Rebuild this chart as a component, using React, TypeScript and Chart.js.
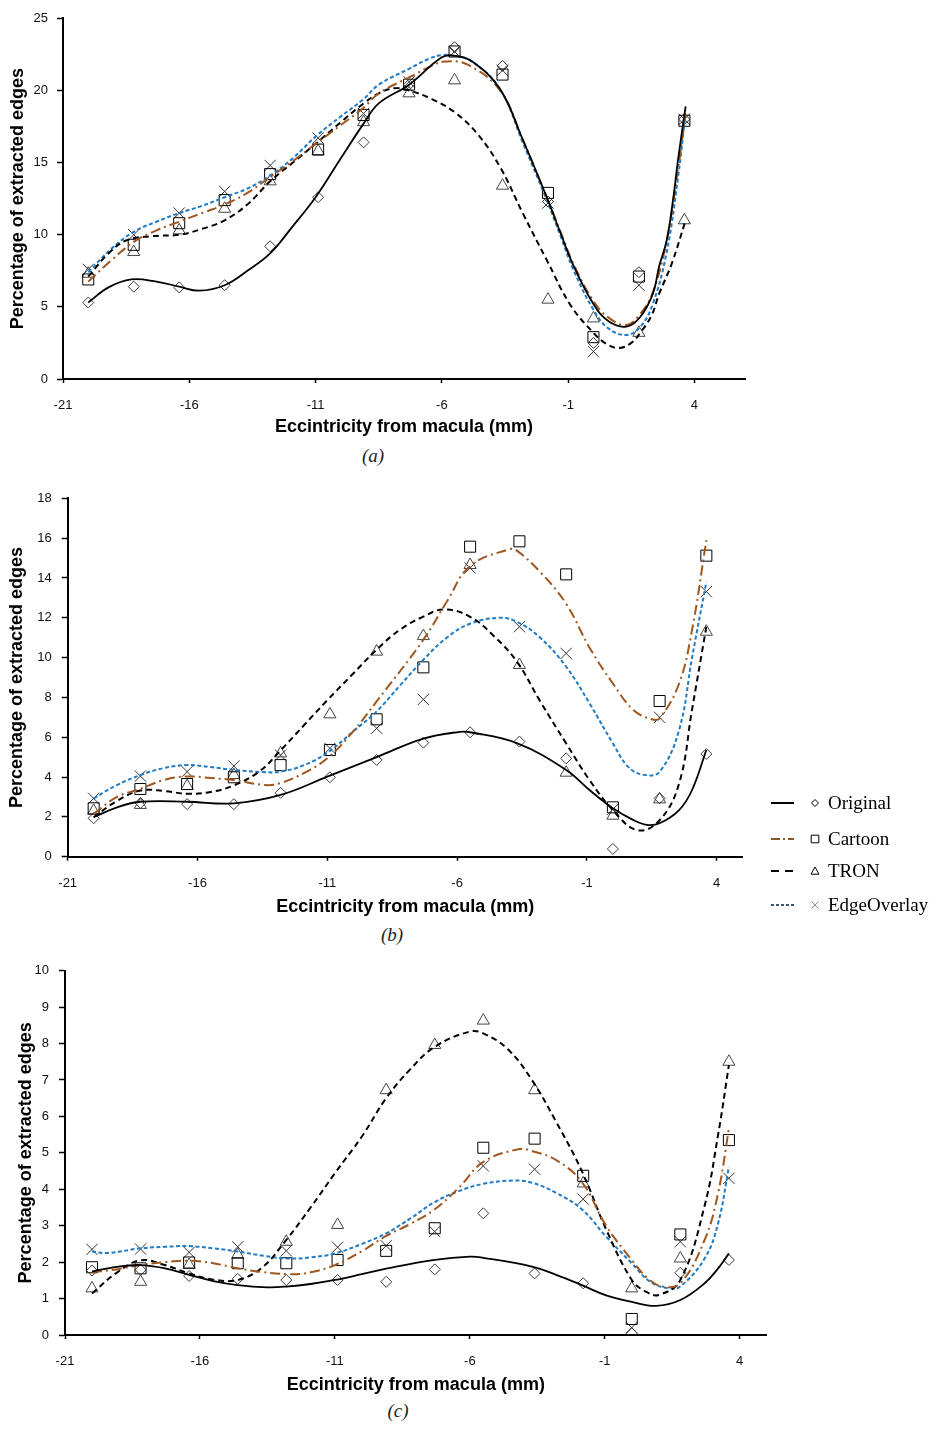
import React, { useEffect, useRef } from "react";
import { Chart, registerables } from "chart.js";

Chart.register(...registerables);
Chart.defaults.font.family = "'Liberation Sans', Arial, sans-serif";

// ---------- data ----------
const ECC = [-20, -18.2, -16.4, -14.6, -12.8, -10.9, -9.1, -7.3, -5.5, -3.6, -1.8, 0, 1.8, 3.6];
const X_TICKS = [-21, -16, -11, -6, -1, 4];
const SERIES = ["Original", "Cartoon", "TRON", "EdgeOverlay"];
const X_TITLE = "Eccintricity from macula (mm)";
const Y_TITLE = "Percentage of extracted edges";

// panel (a) measured points
const aOriginal = [5.3, 6.4, 6.35, 6.5, 9.2, 12.6, 16.4, 20.4, 23.0, 21.7, 12.3, 2.5, 7.4, 18.0];
const aCartoon = [6.9, 9.3, 10.8, 12.4, 14.2, 15.9, 18.3, 20.4, 22.7, 21.1, 12.9, 2.9, 7.1, 17.9];
const aTron = [7.3, 8.8, 10.3, 11.8, 13.7, 15.8, 17.8, 19.8, 20.7, 13.4, 5.5, 4.2, 3.2, 11.0];
const aEdge = [7.6, 10.0, 11.5, 13.0, 14.8, 16.7, 18.4, 20.6, 22.7, 21.4, 12.2, 1.9, 6.5, 18.0];
// panel (a) trend lines
const aOrigFitX = [-20.0, -19.2, -18.3, -17.3, -16.4, -15.6, -14.6, -13.7, -12.8, -11.9, -11.0, -10.0, -9.1, -8.5, -7.3, -6.0, -5.5, -4.8, -3.7, -2.8, -1.85, -1.3, -0.8, 0.0, 0.6, 1.3, 1.85, 2.35, 2.6, 2.9, 3.15, 3.35, 3.65];
const aOrigFitY = [5.3, 6.35, 6.9, 6.75, 6.4, 6.12, 6.5, 7.5, 8.7, 10.6, 12.6, 15.3, 17.7, 19.1, 20.4, 22.3, 22.4, 22.0, 20.1, 16.6, 12.6, 10.1, 7.9, 5.2, 4.0, 3.63, 4.3, 5.9, 7.8, 9.6, 12.4, 15.2, 18.9];
const aCartFitX = [-20.0, -19.1, -18.2, -17.3, -16.4, -15.5, -14.6, -13.7, -12.8, -11.9, -11.0, -10.0, -9.1, -8.5, -7.3, -6.4, -5.9, -5.0, -3.7, -2.8, -1.85, -1.3, -0.8, 0.0, 0.6, 1.3, 1.85, 2.35, 2.9, 3.35, 3.65];
const aCartFitY = [6.75, 8.2, 9.5, 10.3, 10.9, 11.5, 12.1, 12.9, 14.0, 15.1, 16.3, 17.6, 18.8, 19.8, 20.9, 21.7, 22.0, 21.8, 20.0, 16.6, 12.6, 10.2, 8.0, 5.4, 4.25, 3.74, 4.5, 6.0, 9.6, 14.6, 18.4];
const aTronFitX = [-20.0, -19.2, -18.5, -17.5, -16.4, -15.5, -14.6, -13.7, -12.8, -11.9, -11.0, -10.0, -9.1, -8.5, -7.9, -7.3, -6.4, -5.5, -4.6, -3.7, -2.8, -1.85, -0.9, 0.0, 0.5, 1.0, 1.5, 1.85, 2.3, 2.6, 3.1, 3.65];
const aTronFitY = [7.1, 8.7, 9.6, 9.9, 10.0, 10.4, 11.0, 12.1, 13.7, 15.0, 16.3, 17.8, 19.1, 19.8, 20.15, 20.0, 19.4, 18.5, 17.0, 14.7, 11.5, 8.25, 5.1, 3.2, 2.45, 2.15, 2.5, 3.2, 4.4, 5.9, 8.0, 11.0];
const aEdgeFitX = [-20.0, -19.1, -18.2, -17.3, -16.4, -15.5, -14.6, -13.7, -12.8, -11.9, -11.0, -10.0, -9.1, -8.5, -7.3, -6.5, -6.0, -5.5, -4.8, -3.7, -2.8, -1.85, -1.3, -0.8, 0.0, 0.6, 1.3, 1.85, 2.35, 2.9, 3.35, 3.65];
const aEdgeFitY = [7.4, 9.0, 10.2, 10.9, 11.5, 12.0, 12.6, 13.2, 14.1, 15.3, 16.8, 18.2, 19.4, 20.4, 21.5, 22.2, 22.45, 22.4, 22.0, 20.1, 16.4, 12.4, 9.9, 7.6, 4.8, 3.5, 3.05, 3.6, 5.2, 8.8, 14.0, 18.5];

// panel (b) measured points
const bOriginal = [1.93, 2.7, 2.64, 2.64, 3.21, 3.99, 4.86, 5.73, 6.25, 5.78, 4.94, 0.39, 2.93, 5.16];
const bCartoon = [2.43, 3.4, 3.65, 3.99, 4.6, 5.36, 6.9, 9.51, 15.57, 15.84, 14.18, 2.48, 7.82, 15.12];
const bTron = [2.3, 2.6, 3.55, 4.1, 5.19, 7.15, 10.3, 11.08, 14.65, 9.63, 4.22, 2.06, 2.88, 11.3];
const bEdge = [2.93, 4.05, 4.27, 4.55, 5.1, 5.44, 6.45, 7.9, 14.5, 11.55, 10.21, 2.38, 7.0, 13.31];
// panel (b) trend lines
const bOrigFitX = [-20.0, -19.1, -18.2, -16.4, -14.6, -12.8, -11.0, -9.1, -7.3, -5.9, -5.5, -3.7, -1.8, -0.9, 0.0, 0.7, 1.3, 1.8, 2.55, 3.05, 3.6];
const bOrigFitY = [1.98, 2.48, 2.76, 2.76, 2.68, 3.1, 4.02, 5.0, 5.93, 6.27, 6.25, 5.7, 4.36, 3.35, 2.43, 1.9, 1.6, 1.68, 2.34, 3.35, 5.36];
const bCartFitX = [-20.0, -19.1, -18.2, -17.3, -16.4, -15.5, -14.6, -13.4, -12.8, -11.9, -11.0, -10.0, -9.1, -7.3, -6.4, -5.5, -4.0, -3.7, -2.8, -1.8, -0.9, 0.0, 0.8, 1.5, 1.8, 2.55, 3.05, 3.6];
const bCartFitY = [2.15, 3.0, 3.41, 3.85, 4.03, 3.95, 3.85, 3.6, 3.7, 4.2, 4.94, 6.3, 7.8, 10.9, 12.8, 14.6, 15.44, 15.37, 14.3, 12.7, 10.5, 8.7, 7.35, 6.9, 6.95, 8.7, 11.4, 15.9];
const bTronFitX = [-20.0, -19.1, -18.2, -17.3, -16.4, -15.5, -14.6, -13.6, -12.8, -11.9, -11.0, -10.0, -9.1, -8.2, -7.3, -6.5, -5.5, -4.6, -3.7, -2.8, -1.8, -0.9, 0.0, 0.95, 1.8, 2.55, 3.05, 3.6];
const bTronFitY = [1.98, 2.8, 3.32, 3.3, 3.16, 3.25, 3.58, 4.3, 5.34, 6.6, 7.86, 9.2, 10.4, 11.4, 12.06, 12.42, 12.05, 11.1, 9.8, 7.8, 5.69, 3.85, 2.34, 1.33, 1.83, 3.68, 7.4, 11.55];
const bEdgeFitX = [-20.0, -19.1, -18.2, -17.3, -16.4, -15.5, -14.6, -13.5, -12.8, -11.9, -11.0, -10.0, -9.1, -8.2, -7.3, -6.4, -5.5, -4.4, -3.7, -2.8, -1.8, -0.9, 0.0, 0.6, 1.2, 1.8, 2.55, 3.05, 3.6];
const bEdgeFitY = [2.93, 3.6, 4.1, 4.45, 4.6, 4.5, 4.36, 4.25, 4.27, 4.6, 5.22, 6.3, 7.3, 8.6, 9.89, 11.0, 11.7, 12.0, 11.8, 11.0, 9.54, 7.7, 5.69, 4.5, 4.11, 4.27, 6.36, 10.0, 13.8];

// panel (c) measured points
const cOriginal = [1.77, 1.79, 1.62, 1.54, 1.51, 1.51, 1.46, 1.8, 3.34, 1.69, 1.42, 0.05, 1.71, 2.06];
const cCartoon = [1.86, 1.83, 1.99, 1.97, 1.97, 2.06, 2.31, 2.93, 5.14, 5.39, 4.37, 0.44, 2.76, 5.35];
const cTron = [1.28, 1.46, 1.92, 2.2, 2.56, 3.02, 6.72, 7.96, 8.63, 6.72, 4.16, 1.28, 2.1, 7.5];
const cEdge = [2.35, 2.36, 2.27, 2.42, 2.31, 2.41, 2.45, 2.84, 4.64, 4.55, 3.73, 0.2, 2.56, 4.3];
// panel (c) trend lines
const cOrigFitX = [-20.0, -19.1, -18.2, -17.3, -16.4, -15.5, -14.6, -13.5, -12.8, -11.9, -11.0, -10.0, -9.1, -7.3, -6.0, -5.5, -3.7, -2.8, -1.85, -0.95, 0.0, 0.9, 1.8, 2.7, 3.2, 3.6];
const cOrigFitY = [1.74, 1.87, 1.92, 1.83, 1.65, 1.48, 1.37, 1.31, 1.33, 1.4, 1.51, 1.67, 1.82, 2.06, 2.15, 2.12, 1.88, 1.65, 1.37, 1.09, 0.91, 0.8, 0.96, 1.42, 1.83, 2.24];
const cCartFitX = [-20.0, -19.1, -18.2, -17.3, -16.4, -15.5, -14.6, -13.7, -12.7, -11.9, -11.0, -10.0, -9.1, -8.2, -7.3, -6.4, -5.5, -4.2, -3.7, -2.8, -1.85, -0.95, 0.0, 0.6, 1.15, 1.8, 2.7, 3.2, 3.6];
const cCartFitY = [1.72, 1.8, 1.92, 2.0, 2.04, 1.97, 1.83, 1.73, 1.67, 1.72, 1.92, 2.3, 2.72, 3.05, 3.45, 4.05, 4.75, 5.1, 5.05, 4.8, 4.2, 3.0, 2.06, 1.55, 1.33, 1.42, 2.61, 3.9, 5.67];
const cTronFitX = [-20.0, -19.1, -18.2, -17.3, -16.4, -15.5, -14.6, -13.7, -12.8, -11.9, -11.0, -10.0, -9.1, -8.2, -7.3, -6.0, -5.5, -4.6, -3.7, -2.8, -1.85, -0.95, 0.0, 0.5, 1.0, 1.8, 2.7, 3.2, 3.6];
const cTronFitY = [1.14, 1.7, 2.05, 1.92, 1.69, 1.52, 1.51, 1.85, 2.61, 3.5, 4.44, 5.45, 6.5, 7.3, 7.91, 8.33, 8.28, 7.85, 7.0, 5.85, 4.5, 2.9, 1.51, 1.2, 1.1, 1.51, 3.55, 5.5, 7.41];
const cEdgeFitX = [-20.0, -19.4, -18.2, -17.3, -16.4, -15.5, -14.6, -13.6, -12.8, -11.9, -11.0, -10.0, -9.1, -8.2, -7.3, -6.4, -5.5, -4.4, -3.7, -2.8, -1.85, -0.95, 0.0, 0.7, 1.4, 1.8, 2.7, 3.2, 3.6];
const cEdgeFitY = [2.29, 2.25, 2.38, 2.42, 2.44, 2.38, 2.29, 2.17, 2.1, 2.13, 2.24, 2.5, 2.79, 3.2, 3.65, 3.95, 4.15, 4.24, 4.18, 3.9, 3.45, 2.7, 1.97, 1.45, 1.28, 1.33, 2.1, 3.07, 4.62];

// ---------- styles ----------
type SeriesStyle = { line: string; dash: number[]; width: number; point: string; r: number; pc: string };
const STYLES: SeriesStyle[] = [
  { line: "#000000", dash: [], width: 1.8, point: "rectRot", r: 5.5, pc: "#3a3a3a" },
  { line: "#a0561f", dash: [10, 4, 2, 4], width: 2, point: "rect", r: 7.8, pc: "#000000" },
  { line: "#000000", dash: [6, 4], width: 2, point: "triangle", r: 7, pc: "#454545" },
  { line: "#1f7bc4", dash: [4, 2.5], width: 2, point: "crossRot", r: 8, pc: "#333333" },
];

type PanelCfg = {
  top: number; W: number; H: number;
  area: { left: number; right: number; top: number; bottom: number };
  xMax: number; yMax: number; yStep: number;
  xTickPad: number; xTitlePadB: number; yTickPad: number; yTitlePadT: number;
  points: number[][]; fitX: number[][]; fitY: number[][];
  legend?: boolean;
  caption: string; capX: number; capY: number;
};

const PANELS: PanelCfg[] = [
  {
    top: 0, W: 760, H: 445, area: { left: 63, right: 745, top: 18.3, bottom: 379 },
    xMax: 6, yMax: 25, yStep: 5, xTickPad: 14.5, xTitlePadB: 7.2, yTickPad: 9, yTitlePadT: 7.2,
    points: [aOriginal, aCartoon, aTron, aEdge],
    fitX: [aOrigFitX, aCartFitX, aTronFitX, aEdgeFitX],
    fitY: [aOrigFitY, aCartFitY, aTronFitY, aEdgeFitY],
    caption: "(a)", capX: 373, capY: 456,
  },
  {
    top: 480, W: 951, H: 440, area: { left: 67.7, right: 742.7, top: 18.3, bottom: 376.7 },
    xMax: 5, yMax: 18, yStep: 2, xTickPad: 14.5, xTitlePadB: 2.5, yTickPad: 10, yTitlePadT: 6.2,
    points: [bOriginal, bCartoon, bTron, bEdge],
    fitX: [bOrigFitX, bCartFitX, bTronFitX, bEdgeFitX],
    fitY: [bOrigFitY, bCartFitY, bTronFitY, bEdgeFitY],
    legend: true,
    caption: "(b)", capX: 392, capY: 935,
  },
  {
    top: 950, W: 790, H: 450, area: { left: 65, right: 766.7, top: 20.7, bottom: 385 },
    xMax: 5, yMax: 10, yStep: 1, xTickPad: 14.2, xTitlePadB: 4.2, yTickPad: 10, yTitlePadT: 15.2,
    points: [cOriginal, cCartoon, cTron, cEdge],
    fitX: [cOrigFitX, cCartFitX, cTronFitX, cEdgeFitX],
    fitY: [cOrigFitY, cCartFitY, cTronFitY, cEdgeFitY],
    caption: "(c)", capX: 398, capY: 1411,
  },
];

// ---------- legend plugin (panel b) ----------
const LEGEND_ROWS = [323, 359, 391, 425];
const LEGEND_LINE_COLORS = ["#000000", "#8b5a2b", "#000000", "#3d5575"];
const LEGEND_DASH = [[], [9, 3, 2, 3], [8, 6], [3, 2]];
const LEGEND_MARK_COLORS = ["#000000", "#000000", "#000000", "#8a8aaa"];

function drawMark(ctx: CanvasRenderingContext2D, kind: string, x: number, y: number, s: number) {
  ctx.beginPath();
  if (kind === "rectRot") {
    ctx.moveTo(x, y - s); ctx.lineTo(x + s, y); ctx.lineTo(x, y + s); ctx.lineTo(x - s, y); ctx.closePath();
  } else if (kind === "rect") {
    ctx.rect(x - s, y - s, 2 * s, 2 * s);
  } else if (kind === "triangle") {
    ctx.moveTo(x, y - s); ctx.lineTo(x + s, y + s * 0.8); ctx.lineTo(x - s, y + s * 0.8); ctx.closePath();
  } else {
    ctx.moveTo(x - s, y - s); ctx.lineTo(x + s, y + s); ctx.moveTo(x + s, y - s); ctx.lineTo(x - s, y + s);
  }
  ctx.stroke();
}

const legendPlugin = {
  id: "sideLegend",
  afterDraw(chart: any) {
    const cfg = chart.options.plugins.sideLegend;
    if (!cfg || !cfg.show) return;
    const ctx: CanvasRenderingContext2D = chart.ctx;
    ctx.save();
    SERIES.forEach((name, i) => {
      const y = LEGEND_ROWS[i];
      ctx.strokeStyle = LEGEND_LINE_COLORS[i];
      ctx.lineWidth = 2;
      ctx.setLineDash(LEGEND_DASH[i]);
      ctx.beginPath();
      ctx.moveTo(771, y);
      ctx.lineTo(794, y);
      ctx.stroke();
      ctx.setLineDash([]);
      ctx.lineWidth = 1;
      ctx.strokeStyle = LEGEND_MARK_COLORS[i];
      const sizes = [3.5, 3.8, 4, 3.5];
      drawMark(ctx, STYLES[i].point, 815, y, sizes[i]);
      ctx.fillStyle = "#000000";
      ctx.font = "19px 'Liberation Serif', 'Times New Roman', serif";
      ctx.textBaseline = "middle";
      ctx.textAlign = "left";
      ctx.fillText(name, 828, y + 1);
    });
    ctx.restore();
  },
};

function buildConfig(p: PanelCfg): any {
  const datasets: any[] = [];
  SERIES.forEach((name, i) => {
    const st = STYLES[i];
    datasets.push({
      label: name + " trend",
      data: p.fitX[i].map((x, k) => ({ x, y: p.fitY[i][k] })),
      showLine: true,
      borderColor: st.line,
      borderWidth: st.width,
      borderDash: st.dash,
      pointRadius: 0,
      fill: false,
      tension: 0.4,
      order: 1,
    });
  });
  SERIES.forEach((name, i) => {
    const st = STYLES[i];
    datasets.push({
      label: name,
      data: ECC.map((x, k) => ({ x, y: p.points[i][k] })),
      showLine: false,
      pointStyle: st.point,
      pointRadius: st.r,
      pointBorderWidth: 1,
      pointBorderColor: st.pc,
      pointBackgroundColor: "rgba(0,0,0,0)",
      order: 2,
    });
  });
  const a = p.area;
  return {
    type: "scatter",
    data: { datasets },
    plugins: [legendPlugin],
    options: {
      animation: false,
      responsive: false,
      maintainAspectRatio: false,
      events: [],
      layout: { padding: { left: 0, top: a.top, right: p.W - a.right, bottom: 0 } },
      plugins: {
        legend: { display: false },
        tooltip: { enabled: false },
        sideLegend: { show: !!p.legend },
      },
      scales: {
        x: {
          type: "linear",
          min: -21,
          max: p.xMax,
          afterBuildTicks: (s: any) => { s.ticks = X_TICKS.map((v) => ({ value: v })); },
          afterFit: (s: any) => {
            s.height = p.H - a.bottom;
            s.paddingLeft = 0; s.paddingRight = 0; s.paddingTop = 0; s.paddingBottom = 0;
          },
          grid: { display: true, drawOnChartArea: false, drawTicks: true, tickLength: 4, tickColor: "#000000", tickWidth: 1.5 },
          border: { display: true, color: "#000000", width: 2 },
          ticks: { color: "#111111", font: { size: 13 }, padding: p.xTickPad, maxRotation: 0, autoSkip: false },
          title: {
            display: true, text: X_TITLE, color: "#000000",
            font: { size: 18, weight: "bold" }, padding: { top: 0, bottom: p.xTitlePadB },
          },
        },
        y: {
          type: "linear",
          min: 0,
          max: p.yMax,
          ticks: { stepSize: p.yStep, color: "#111111", font: { size: 13 }, padding: p.yTickPad },
          afterFit: (s: any) => {
            s.width = a.left;
            s.paddingLeft = 0; s.paddingRight = 0; s.paddingTop = 0; s.paddingBottom = 0;
          },
          grid: { display: true, drawOnChartArea: false, drawTicks: true, tickLength: 6, tickColor: "#000000", tickWidth: 1.5 },
          border: { display: true, color: "#000000", width: 2 },
          title: {
            display: true, text: Y_TITLE, color: "#000000",
            font: { size: 18, weight: "bold" }, padding: { top: p.yTitlePadT, bottom: 0 },
          },
        },
      },
    },
  };
}

function PanelChart({ p }: { p: PanelCfg }) {
  const ref = useRef<HTMLCanvasElement | null>(null);
  useEffect(() => {
    if (!ref.current) return;
    const chart = new Chart(ref.current, buildConfig(p));
    return () => chart.destroy();
  }, [p]);
  return (
    <canvas
      ref={ref}
      width={p.W}
      height={p.H}
      style={{ position: "absolute", left: 0, top: p.top, width: p.W, height: p.H }}
    />
  );
}

export default function App() {
  return (
    <div style={{ position: "absolute", left: 0, top: 0, width: 951, height: 1435, background: "#ffffff", overflow: "hidden" }}>
      {PANELS.map((p, i) => (
        <PanelChart key={i} p={p} />
      ))}
      {PANELS.map((p, i) => (
        <div
          key={"cap" + i}
          style={{
            position: "absolute",
            left: p.capX,
            top: p.capY,
            transform: "translate(-50%, -50%)",
            fontFamily: "'Liberation Serif', 'Times New Roman', serif",
            fontStyle: "italic",
            fontSize: 19,
            color: "#222222",
            whiteSpace: "nowrap",
          }}
        >
          {p.caption}
        </div>
      ))}
    </div>
  );
}
